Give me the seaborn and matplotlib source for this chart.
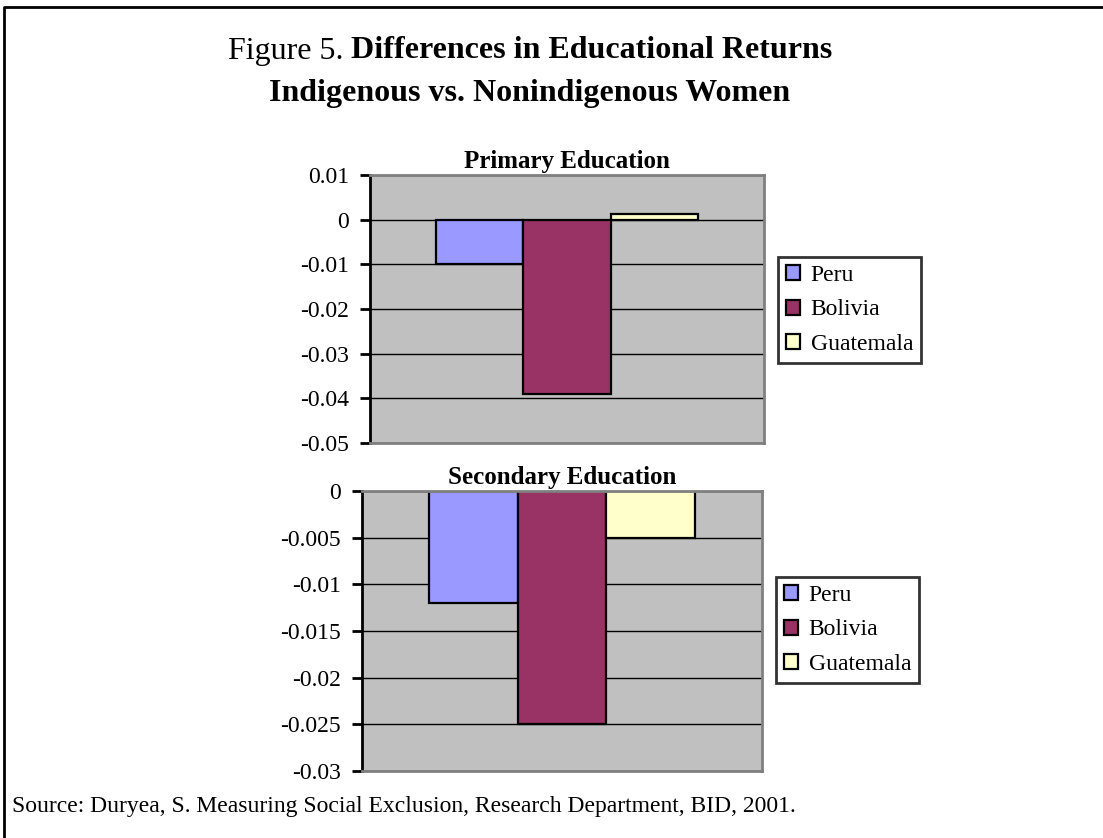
import matplotlib
matplotlib.use("Agg")
import matplotlib.pyplot as plt
from matplotlib.lines import Line2D
import pandas as pd
import seaborn as sns

# Returns-to-education differences (indigenous minus nonindigenous women)
countries = ["Peru", "Bolivia", "Guatemala"]
primary_values = [-0.010, -0.039, 0.0013]
secondary_values = [-0.012, -0.025, -0.005]
colors = ["#9999FF", "#993366", "#FFFFCC"]

primary_ticks = [0.01, 0, -0.01, -0.02, -0.03, -0.04, -0.05]
primary_labels = ["0.01", "0", "-0.01", "-0.02", "-0.03", "-0.04", "-0.05"]
secondary_ticks = [0, -0.005, -0.01, -0.015, -0.02, -0.025, -0.03]
secondary_labels = ["0", "-0.005", "-0.01", "-0.015", "-0.02", "-0.025", "-0.03"]

sns.set_theme(style="white")
plt.rcParams["font.family"] = ["Liberation Serif", "DejaVu Serif"]
plt.rcParams["axes.unicode_minus"] = False
for key in ["text.color", "axes.labelcolor", "xtick.color", "ytick.color"]:
    plt.rcParams[key] = "black"

W, H = 1103, 838
fig = plt.figure(figsize=(W / 100, H / 100), dpi=100)
fig.patch.set_facecolor("white")


def panel(rect, values, ticks, labels, title, legend_box):
    ax = fig.add_axes(rect)
    df = pd.DataFrame({"grp": ["g"] * len(countries), "country": countries, "value": values})
    sns.barplot(data=df, x="grp", y="value", hue="country", hue_order=countries,
                palette=colors, saturation=1, width=0.667, edgecolor="black",
                linewidth=1.6, ax=ax)
    ax.set_facecolor("#C0C0C0")
    ax.set_xlim(-0.5, 0.5)
    ax.set_ylim(min(ticks), max(ticks))
    ax.set_yticks(ticks)
    ax.set_yticklabels(labels)
    ax.set_xticks([])
    ax.set_xlabel("")
    ax.set_ylabel("")
    ax.set_axisbelow(True)
    ax.yaxis.grid(True, color="black", linewidth=1.0)
    for s in ["top", "right", "bottom"]:
        ax.spines[s].set_color("#808080")
        ax.spines[s].set_linewidth(2)
    ax.spines["left"].set_color("black")
    ax.spines["left"].set_linewidth(2)
    ax.tick_params(axis="y", which="major", left=True, direction="out", length=7,
                   width=2, color="black", labelsize=17, pad=8)
    ax.set_title(title, fontsize=18, fontweight="bold", pad=5)
    handles, lbls = ax.get_legend_handles_labels()
    ax.get_legend().remove()
    x0, y0, x1, y1 = legend_box
    leg = fig.legend(handles, lbls, loc="upper left",
                     bbox_to_anchor=(x0 / W, 1 - y0 / H), bbox_transform=fig.transFigure,
                     fontsize=17, frameon=True, fancybox=False, edgecolor="black",
                     handlelength=0.6, handleheight=0.6, handletextpad=0.45,
                     labelspacing=0.58, borderpad=0.33, borderaxespad=0)
    leg.get_frame().set_linewidth(2)
    leg.get_frame().set_facecolor("white")
    for h in leg.legend_handles:
        h.set_edgecolor("black")
        h.set_linewidth(1.6)
    return ax


panel([370 / W, 1 - 443 / H, 394 / W, 268 / H], primary_values, primary_ticks,
      primary_labels, "Primary Education", (778, 257, 918, 361))
panel([362 / W, 1 - 771 / H, 400 / W, 280 / H], secondary_values, secondary_ticks,
      secondary_labels, "Secondary Education", (776, 577, 922, 685))

# Figure heading: plain prefix followed by bold text, centred as one line
head_y = 1 - 51 / H
t_plain = fig.text(0, head_y, "Figure 5.", fontsize=23, ha="left", va="center")
t_bold = fig.text(0, head_y, "Differences in Educational Returns", fontsize=23,
                  fontweight="bold", ha="left", va="center")
fig.canvas.draw()
renderer = fig.canvas.get_renderer()
w_plain = t_plain.get_window_extent(renderer).width
w_bold = t_bold.get_window_extent(renderer).width
space = 8
total = w_plain + space + w_bold
start = 530 - total / 2
t_plain.set_x(start / W)
t_bold.set_x((start + w_plain + space) / W)

fig.text(530 / W, 1 - 93 / H, "Indigenous vs. Nonindigenous Women", fontsize=23,
         fontweight="bold", ha="center", va="center")

fig.text(12 / W, 1 - 806 / H,
         "Source: Duryea, S. Measuring Social Exclusion, Research Department, BID, 2001.",
         fontsize=17, ha="left", va="center")

# Page frame (top and left edges)
fig.add_artist(Line2D([4 / W, 4 / W, 1.0], [0.0, 1 - 7 / H, 1 - 7 / H],
                      transform=fig.transFigure, color="black", linewidth=2))

fig.savefig("out.png", dpi=100, facecolor="white")
